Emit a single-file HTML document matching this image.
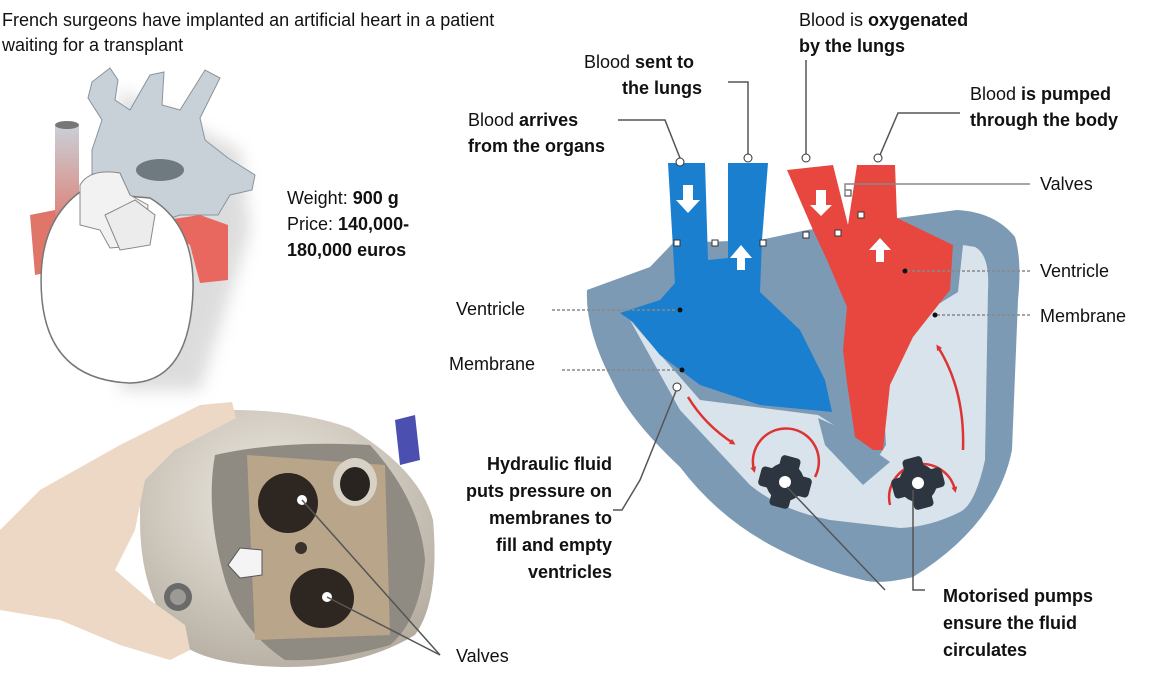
<!DOCTYPE html>
<html><head><meta charset="utf-8"><style>
html,body{margin:0;padding:0;background:#fff;}
svg{display:block;font-family:"Liberation Sans",Arial,sans-serif;}
.t{font-size:18px;fill:#111;}
.b{font-weight:bold;}
.ln{stroke:#555;stroke-width:1.5;fill:none;}
.dl{stroke:#888;stroke-width:1.5;stroke-dasharray:3 2;fill:none;}
</style></head><body>
<svg width="1166" height="675" viewBox="0 0 1166 675" xmlns="http://www.w3.org/2000/svg">
<defs>
<linearGradient id="rg" x1="0" y1="0" x2="0" y2="1"><stop offset="0" stop-color="#c9d1d8"/><stop offset="1" stop-color="#e0766a"/></linearGradient>
<radialGradient id="ph" cx="0.45" cy="0.35" r="0.7"><stop offset="0" stop-color="#efebe3"/><stop offset="1" stop-color="#b5ada0"/></radialGradient>
<filter id="bl"><feGaussianBlur stdDeviation="8"/></filter>
<marker id="ah" markerWidth="6" markerHeight="6" refX="3" refY="3" orient="auto" markerUnits="userSpaceOnUse"><path d="M0,0 L6,3 L0,6 Z" fill="#d33"/></marker>
</defs>
<text class="t" x="2" y="26">French surgeons have implanted an artificial heart in a patient</text>
<text class="t" x="2" y="51">waiting for a transplant</text>

<!-- Small heart illustration -->
<g>
<path d="M120,90 L240,150 L250,230 L200,390 L120,390 Z" fill="#bbb" filter="url(#bl)" opacity="0.5"/>
<rect x="55" y="125" width="24" height="110" fill="url(#rg)"/>
<ellipse cx="67" cy="125" rx="12" ry="4" fill="#777"/>
<path d="M30,215 L55,210 L60,270 L35,275 Z" fill="#e0766a"/>
<path d="M92,205 L92,150 L102,120 L88,98 L92,82 L110,68 L118,80 L115,100 L130,110 L150,75 L164,72 L162,105 L180,110 L205,70 L220,78 L200,118 L205,140 L228,158 L255,175 L252,190 L230,195 L218,215 L180,215 L150,225 L120,215 Z" fill="#c9d1d8" stroke="#8a949c" stroke-width="1"/>
<ellipse cx="160" cy="170" rx="24" ry="11" fill="#6f7980"/>
<path d="M153,222 L200,215 L228,225 L228,280 L200,283 L190,245 Z" fill="#e8675e"/>
<path d="M42,300 Q35,225 80,192 L150,198 Q195,225 193,290 Q190,382 130,383 Q50,380 42,300 Z" fill="#fff" stroke="#777" stroke-width="1.5"/>
<path d="M80,185 Q90,168 120,173 L130,195 L148,205 L145,245 L110,248 L100,230 L80,225 Z" fill="#f2f2f2" stroke="#888" stroke-width="1"/>
<path d="M105,215 L135,200 L155,215 L150,245 L120,250 Z" fill="#ececec" stroke="#888" stroke-width="1"/>
</g>
<text class="t" x="287" y="204">Weight: <tspan class="b">900 g</tspan></text>
<text class="t" x="287" y="230">Price: <tspan class="b">140,000-</tspan></text>
<text class="t b" x="287" y="256">180,000 euros</text>

<!-- Photo -->
<g>
<path d="M140,455 Q180,415 233,410 Q300,410 350,428 Q420,470 433,520 Q440,600 415,635 Q360,668 283,667 Q210,665 183,645 Q140,600 140,520 Z" fill="url(#ph)"/>
<path d="M215,455 Q280,440 370,445 Q420,500 425,560 Q420,620 390,645 Q330,662 285,660 Q240,630 225,580 Q205,510 215,455 Z" fill="#8f8a82"/>
<path d="M247,455 L385,465 L390,635 L255,640 Z" fill="#b8a58a"/>
<ellipse cx="288" cy="503" rx="30" ry="30" fill="#2e2620"/>
<ellipse cx="322" cy="598" rx="32" ry="30" fill="#2e2620"/>
<ellipse cx="355" cy="482" rx="22" ry="24" fill="#d8d2c6"/>
<ellipse cx="355" cy="484" rx="15" ry="17" fill="#2a2420"/>
<circle cx="302" cy="500" r="5" fill="#fff"/>
<circle cx="327" cy="597" r="5" fill="#fff"/>
<circle cx="301" cy="548" r="6" fill="#3a322a"/>
<path d="M228,565 L240,548 L262,550 L262,575 L240,578 Z" fill="#f4f4f4" stroke="#555"/>
<circle cx="178" cy="597" r="14" fill="#6a6a6a"/><circle cx="178" cy="597" r="8" fill="#9c9a95"/>
<path d="M395,420 L415,415 L420,460 L400,465 Z" fill="#4a4fb0"/>
<path d="M0,530 L40,490 L120,445 L200,405 L232,402 L236,418 L175,450 L145,480 L135,530 L115,570 L150,600 L185,625 L190,650 L170,660 L120,645 L60,620 L0,610 Z" fill="#ecd8c4"/>
</g>
<path class="ln" d="M302,500 L440,655"/>
<path class="ln" d="M327,597 L440,655"/>
<text class="t" x="456" y="662">Valves</text>

<!-- Main diagram shell -->
<path d="M587,290 L650,267 L673,243 L760,240 L807,230 L957,210 Q995,212 1015,237 Q1022,260 1018,300 L1012,450 Q997,525 913,577 Q880,585 863,580 Q820,570 780,550 Q720,520 680,467 Q630,420 613,383 Q585,330 587,290 Z" fill="#7d9ab5"/>
<path d="M630,320 L700,400 L818,415 L845,432 L870,470 L886,445 L880,340 L958,292 L963,245 L975,247 Q990,255 988,290 L985,460 Q975,505 960,512 Q930,527 900,528 L830,520 Q780,510 750,485 L680,410 Z" fill="#d9e3ec"/>
<path d="M668,163 L705,163 L708,260 L728,258 L728,163 L768,163 L762,240 L760,292 L800,330 L825,380 L832,412 L760,405 L700,385 L660,355 L633,322 L620,313 L660,300 L675,283 Z" fill="#1b7fd0"/>
<path d="M787,170 L833,165 L848,225 L857,165 L895,165 L897,218 L953,245 L950,290 L913,337 L890,385 L883,450 L857,450 L847,383 L843,350 L847,307 L827,260 L813,230 Z" fill="#e8473f"/>
<path d="M818,418 L845,430 L890,462 L863,485 L825,445 Z" fill="#7d9ab5"/>
<g fill="#fff">
<path d="M683,185 L693,185 L693,200 L700,200 L688,213 L676,200 L683,200 Z"/>
<path d="M745,270 L737,270 L737,258 L730,258 L741,245 L752,258 L745,258 Z"/>
<path d="M816,190 L826,190 L826,205 L832,205 L821,216 L810,205 L816,205 Z"/>
<path d="M884,262 L876,262 L876,250 L869,250 L880,238 L891,250 L884,250 Z"/>
</g>
<g fill="none" stroke="#d33" stroke-width="2.5" marker-end="url(#ah)">
<path d="M688,397 Q705,425 733,443"/>
<path d="M963,450 Q965,390 938,347"/>
<path d="M815,477 A33,33 0 1 0 754,470"/>
<path d="M890,505 A33,33 0 1 1 955,490"/>
</g>
<g fill="#2d3540">
<g transform="translate(785,482) rotate(15)"><rect x="-26" y="-10" width="52" height="20" rx="4"/><rect x="-10" y="-26" width="20" height="52" rx="4"/><circle r="19"/></g>
<g transform="translate(918,483) rotate(-15)"><rect x="-26" y="-10" width="52" height="20" rx="4"/><rect x="-10" y="-26" width="20" height="52" rx="4"/><circle r="19"/></g>
</g>
<circle cx="785" cy="482" r="6" fill="#fff"/><circle cx="918" cy="483" r="6" fill="#fff"/>
<g fill="#fff" stroke="#333" stroke-width="1">
<rect x="674" y="240" width="6" height="6"/><rect x="712" y="240" width="6" height="6"/><rect x="760" y="240" width="6" height="6"/>
<rect x="803" y="232" width="6" height="6"/><rect x="835" y="230" width="6" height="6"/><rect x="858" y="212" width="6" height="6"/><rect x="845" y="190" width="6" height="6"/>
</g>

<text class="t" x="584" y="68">Blood <tspan class="b">sent to</tspan></text>
<text class="t b" x="622" y="94">the lungs</text>
<path class="ln" d="M728,82 L748,82 L748,155"/><circle cx="748" cy="158" r="4" fill="#fff" stroke="#333"/>
<text class="t" x="468" y="126">Blood <tspan class="b">arrives</tspan></text>
<text class="t b" x="468" y="152">from the organs</text>
<path class="ln" d="M618,120 L665,120 L680,158"/><circle cx="680" cy="162" r="4" fill="#fff" stroke="#333"/>
<text class="t" x="799" y="26">Blood is <tspan class="b">oxygenated</tspan></text>
<text class="t b" x="799" y="52">by the lungs</text>
<path class="ln" d="M806,60 L806,155"/><circle cx="806" cy="158" r="4" fill="#fff" stroke="#333"/>
<text class="t" x="970" y="100">Blood <tspan class="b">is pumped</tspan></text>
<text class="t b" x="970" y="126">through the body</text>
<path class="ln" d="M960,113 L898,113 L880,155"/><circle cx="878" cy="158" r="4" fill="#fff" stroke="#333"/>
<text class="t" x="1040" y="190">Valves</text>
<path d="M1030,184 L845,184 L845,195" stroke="#888" stroke-width="1.5" fill="none"/>
<text class="t" x="1040" y="277">Ventricle</text>
<path class="dl" d="M1030,271 L905,271"/><circle cx="905" cy="271" r="2.5" fill="#111"/>
<text class="t" x="1040" y="322">Membrane</text>
<path class="dl" d="M1030,315 L935,315"/><circle cx="935" cy="315" r="2.5" fill="#111"/>
<text class="t" x="456" y="315">Ventricle</text>
<path class="dl" d="M552,310 L680,310"/><circle cx="680" cy="310" r="2.5" fill="#111"/>
<text class="t" x="449" y="370">Membrane</text>
<path class="dl" d="M562,370 L682,370"/><circle cx="682" cy="370" r="2.5" fill="#111"/>
<circle cx="677" cy="387" r="4" fill="#fff" stroke="#333"/>
<path class="ln" d="M676,391 L640,480 L622,510 L613,510"/>
<g class="t b" text-anchor="end">
<text x="612" y="470">Hydraulic fluid</text>
<text x="612" y="497">puts pressure on</text>
<text x="612" y="524">membranes to</text>
<text x="612" y="551">fill and empty</text>
<text x="612" y="578">ventricles</text>
</g>
<path class="ln" d="M787,487 L885,590 M913,490 L913,590 L925,590"/>
<g class="t b">
<text x="943" y="602">Motorised pumps</text>
<text x="943" y="629">ensure the fluid</text>
<text x="943" y="656">circulates</text>
</g>
</svg>
</body></html>
